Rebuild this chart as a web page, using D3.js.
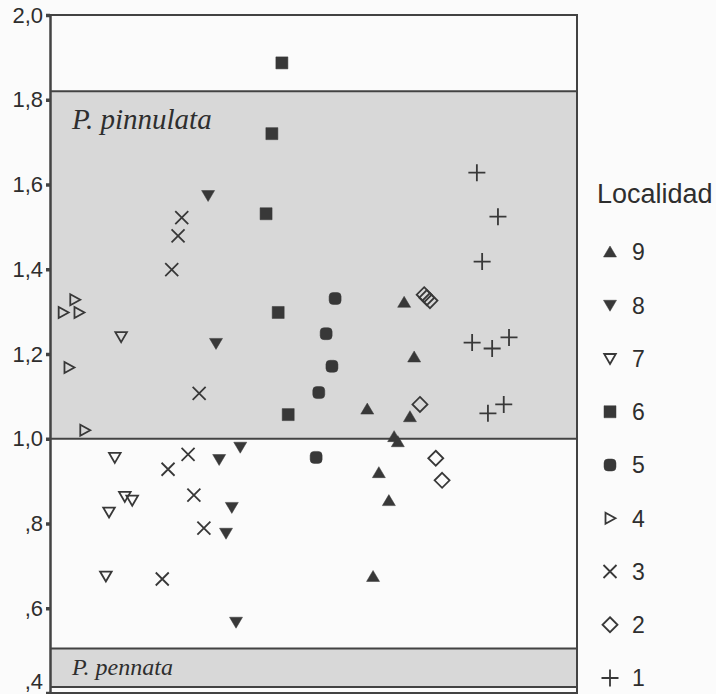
<!DOCTYPE html>
<html>
<head>
<meta charset="utf-8">
<script src="https://cdn.jsdelivr.net/npm/d3@7"></script>
<style>
  html, body { margin: 0; padding: 0; background: #fbfbfb; }
  svg { display: block; }
</style>
</head>
<body>
<svg id="chart" width="716" height="694"></svg>
<script>
// Measured values per locality: [horizontal jitter index (0-100), value]
const loc1 = [[81.0, 1.628], [85.0, 1.524], [82.0, 1.418], [80.1, 1.227], [83.9, 1.213], [87.1, 1.239], [83.1, 1.060], [86.1, 1.081]];
const loc2 = [[71.0, 1.340], [71.5, 1.333], [72.1, 1.326], [70.2, 1.081], [73.2, 0.954], [74.4, 0.902]];
const loc3 = [[25.0, 1.522], [24.3, 1.479], [23.1, 1.399], [28.3, 1.107], [26.2, 0.963], [22.4, 0.928], [27.3, 0.867], [29.2, 0.789], [21.3, 0.669]];
const loc4 = [[4.7, 1.328], [2.5, 1.298], [5.5, 1.298], [3.6, 1.168], [6.6, 1.020]];
const loc5 = [[54.1, 1.331], [52.4, 1.248], [53.5, 1.171], [51.0, 1.109], [50.5, 0.956]];
const loc6 = [[44.0, 1.887], [42.1, 1.720], [41.0, 1.531], [43.3, 1.298], [45.2, 1.057]];
const loc7 = [[13.5, 1.241], [12.3, 0.956], [14.2, 0.864], [15.6, 0.855], [11.2, 0.827], [10.6, 0.676]];
const loc8 = [[30.0, 1.574], [31.5, 1.225], [36.1, 0.980], [32.1, 0.951], [34.5, 0.838], [33.4, 0.777], [35.3, 0.567]];
const loc9 = [[67.2, 1.322], [69.1, 1.193], [60.2, 1.070], [68.3, 1.052], [65.3, 1.005], [66.0, 0.993], [62.4, 0.920], [64.3, 0.854], [61.3, 0.675]];

const localities = ["9", "8", "7", "6", "5", "4", "3", "2", "1"];
const localityData = { "1": loc1, "2": loc2, "3": loc3, "4": loc4, "5": loc5, "6": loc6, "7": loc7, "8": loc8, "9": loc9 };
const localityShape = { "9": "triUp", "8": "triDown", "7": "triDownOpen", "6": "square", "5": "circle", "4": "triRightOpen", "3": "times", "2": "diamond", "1": "plus" };

const yTicks = [0.4, 0.6, 0.8, 1.0, 1.2, 1.4, 1.6, 1.8, 2.0];
const yTickLabels = [",4", ",6", ",8", "1,0", "1,2", "1,4", "1,6", "1,8", "2,0"];

// Species ranges shown as shaded bands
const pinnulataRange = [1.0, 1.82];
const pennataRange = [0.414, 0.505];
const bandNames = ["P. pinnulata", "P. pennata"];
const legendTitle = "Localidad";

const ink = "#383838";
const lineInk = "#434343";
const bandFill = "#d8d8d8";
const textInk = "#2e2e2e";

const svg = d3.select("#chart");
const plot = { left: 50, right: 577, top: 15, bottom: 693 };

const x = d3.scaleLinear().domain([0, 100]).range([plot.left, plot.right]);
const y = d3.scaleLinear().domain([0.4, 2.0]).range([plot.bottom, plot.top]);

// shaded bands
function band(range, name, fontSize, labelValue) {
  const g = svg.append("g");
  g.append("rect")
    .attr("x", plot.left).attr("width", plot.right - plot.left)
    .attr("y", y(range[1])).attr("height", y(range[0]) - y(range[1]))
    .attr("fill", bandFill);
  [range[0], range[1]].forEach(v => {
    g.append("line")
      .attr("x1", plot.left).attr("x2", plot.right)
      .attr("y1", y(v)).attr("y2", y(v))
      .attr("stroke", lineInk).attr("stroke-width", 2);
  });
  g.append("text")
    .attr("x", plot.left + 22)
    .attr("y", y(labelValue))
    .attr("font-family", "'Liberation Serif', 'Times New Roman', serif")
    .attr("font-style", "italic")
    .attr("font-size", fontSize)
    .attr("fill", textInk)
    .text(name);
}
band(pinnulataRange, bandNames[0], 29, 1.73);
band(pennataRange, bandNames[1], 24, 0.442);

// frame
svg.append("path")
  .attr("d", `M${plot.left},${y(2.0)}H${plot.right}V${y(0.4)}H${plot.left}`)
  .attr("fill", "none").attr("stroke", lineInk).attr("stroke-width", 2);

// y axis
const yAxis = d3.axisLeft(y)
  .tickValues(yTicks)
  .tickFormat((d, i) => yTickLabels[i])
  .tickSize(4).tickSizeOuter(0).tickPadding(3);
const ga = svg.append("g").attr("transform", `translate(${plot.left},0)`).call(yAxis);
ga.select(".domain").attr("stroke", lineInk).attr("stroke-width", 2.5);
ga.selectAll(".tick line").attr("stroke", lineInk).attr("stroke-width", 3.5);
ga.selectAll(".tick text")
  .attr("font-family", "'Liberation Sans', Arial, sans-serif")
  .attr("font-size", 22)
  .attr("fill", textInk);
ga.selectAll(".tick").filter(d => d === 0.4).select("text").attr("dy", "-0.2em");

// marker shapes
function shapePath(type) {
  switch (type) {
    case "triUp": return "M0,-6L6.5,5L-6.5,5Z";
    case "triDown": return "M0,6L6.5,-5L-6.5,-5Z";
    case "triDownOpen": return "M0,5.5L5.8,-4.5L-5.8,-4.5Z";
    case "triRightOpen": return "M5.5,0L-4.5,5.5L-4.5,-5.5Z";
    case "square": return "M-6,-6H6V6H-6Z";
    case "circle": return "M-6,-2A4,4 0 0 1 -2,-6H2A4,4 0 0 1 6,-2V2A4,4 0 0 1 2,6H-2A4,4 0 0 1 -6,2Z";
    case "times": return "M-6.5,-6.5L6.5,6.5M-6.5,6.5L6.5,-6.5";
    case "diamond": return "M0,-7.5L7.5,0L0,7.5L-7.5,0Z";
    case "plus": return "M-8.5,0H8.5M0,-8.5V8.5";
  }
}
function shapeStyle(sel, type) {
  const filled = ["triUp", "triDown", "square", "circle"].includes(type);
  sel.attr("d", shapePath(type))
    .attr("fill", filled ? ink : "none")
    .attr("stroke", ink)
    .attr("stroke-width", filled ? 0.5 : 1.8)
    .attr("stroke-linejoin", "miter");
}

// points
localities.forEach(loc => {
  const type = localityShape[loc];
  svg.append("g").selectAll("path")
    .data(localityData[loc])
    .join("path")
    .attr("transform", d => `translate(${x(d[0])},${y(d[1])})`)
    .call(shapeStyle, type);
});

// legend
const legendRow = d3.scalePoint().domain(localities).range([252, 678]);
svg.append("text")
  .attr("x", 597).attr("y", 203)
  .attr("font-family", "'Liberation Sans', Arial, sans-serif")
  .attr("font-size", 27)
  .attr("fill", textInk)
  .text(legendTitle);
const lg = svg.append("g").selectAll("g")
  .data(localities)
  .join("g")
  .attr("transform", d => `translate(610,${legendRow(d)})`);
lg.append("path").each(function (d) { d3.select(this).call(shapeStyle, localityShape[d]); });
lg.append("text")
  .attr("x", 22).attr("dy", "0.36em")
  .attr("font-family", "'Liberation Sans', Arial, sans-serif")
  .attr("font-size", 23)
  .attr("fill", textInk)
  .text(d => d);
</script>
</body>
</html>
